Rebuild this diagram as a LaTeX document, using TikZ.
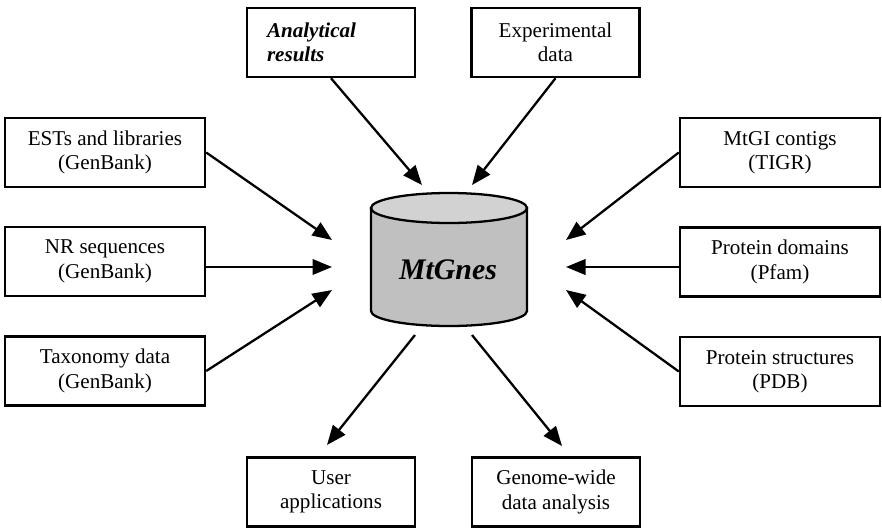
\documentclass[tikz,border=0pt]{standalone}
\usepackage{fontspec}
\setmainfont{Liberation Serif}
\newfontfamily\timesfont{Liberation Serif}
\usepackage{tikz}
\usetikzlibrary{arrows.meta,positioning,calc}

\definecolor{dbbody}{HTML}{C0C0C0}
\definecolor{dbtop}{HTML}{D2D2D2}
\newcommand{\boxfont}{\timesfont\fontsize{12}{13.9}\selectfont}

\begin{document}
\begin{tikzpicture}[
    srcbox/.style={rectangle, draw, line width=1.4pt, minimum width=4cm, minimum height=1.38cm, align=center, font=\boxfont},
    outbox/.style={srcbox, minimum width=3.36cm},
    arrow/.style={-{Triangle[length=3.9mm,width=3.1mm]}, line width=1.3pt},
    dbline/.style={line width=1.3pt}
]
\useasboundingbox (0,0) rectangle (17.64,10.58);

% Database cylinder in the middle
\filldraw[dbline, fill=dbbody] (7.42,6.42) -- (7.42,4.36)
    arc[start angle=180, end angle=360, x radius=1.56cm, y radius=0.30cm]
    -- (10.54,6.42) -- cycle;
\filldraw[dbline, fill=dbtop] (8.98,6.42) ellipse[x radius=1.56cm, y radius=0.30cm];
\node[font=\timesfont\fontsize{17}{20}\selectfont\bfseries\itshape] (db) at (8.96,5.18) {MtGnes};

% Top inputs
\node[outbox, align=left, text width=2.56cm, font=\boxfont\bfseries\itshape] (analytic) at (6.62,9.73) {Analytical\\results};
\node[outbox] (expdata) at (11.11,9.73) {Experimental\\data};

% Left inputs (GenBank)
\node[srcbox] (ests) at (2.10,7.53) {ESTs and libraries\\(GenBank)};
\node[srcbox] (nrseq) at (2.10,5.35) {NR sequences\\(GenBank)};
\node[srcbox] (taxon) at (2.10,3.16) {Taxonomy data\\(GenBank)};

% Right inputs
\node[srcbox] (mtgi) at (15.60,7.53) {MtGI contigs\\(TIGR)};
\node[srcbox] (pfam) at (15.60,5.34) {Protein domains\\(Pfam)};
\node[srcbox] (pdb) at (15.60,3.15) {Protein structures\\(PDB)};

% Outputs
\node[outbox] (userapp) at (6.62,0.74) {User\\applications};
\node[outbox] (genome) at (11.12,0.74) {Genome-wide\\data analysis};

% Arrow ends around the cylinder
\coordinate (inAnalytic) at (8.44,6.88);
\coordinate (inExp) at (9.44,6.88);
\coordinate (inEsts) at (6.64,5.78);
\coordinate (inNr) at (6.64,5.24);
\coordinate (inTaxon) at (6.64,4.78);
\coordinate (inMtgi) at (11.32,5.78);
\coordinate (inPfam) at (11.32,5.24);
\coordinate (inPdb) at (11.32,4.78);
\coordinate (outUser) at (8.30,3.88);
\coordinate (outGenome) at (9.44,3.88);
\coordinate (atUser) at (6.54,1.68);
\coordinate (atGenome) at (11.24,1.66);

% Data flowing in
\draw[arrow] (analytic.south) -- (inAnalytic);
\draw[arrow] (expdata.south) -- (inExp);
\draw[arrow] (ests.east) -- (inEsts);
\draw[arrow] (nrseq.east |- inNr) -- (inNr);
\draw[arrow] (taxon.east) -- (inTaxon);
\draw[arrow] (mtgi.west) -- (inMtgi);
\draw[arrow] (pfam.west |- inPfam) -- (inPfam);
\draw[arrow] (pdb.west) -- (inPdb);

% Data flowing out
\draw[arrow] (outUser) -- (atUser);
\draw[arrow] (outGenome) -- (atGenome);

\end{tikzpicture}
\end{document}
